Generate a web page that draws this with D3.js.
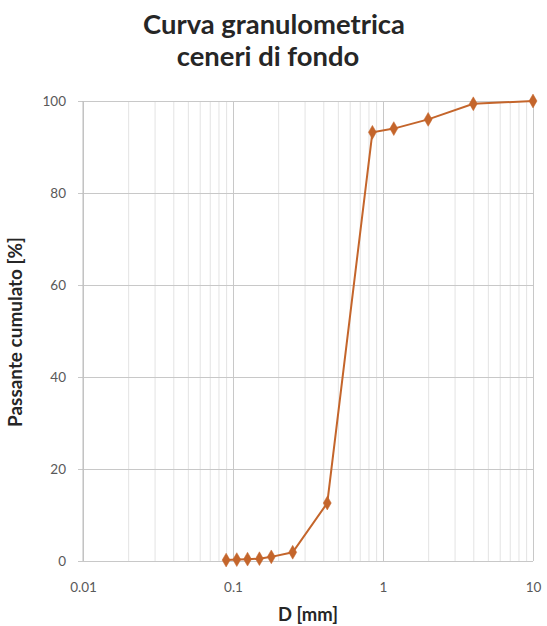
<!DOCTYPE html>
<html>
<head>
<meta charset="utf-8">
<script src="https://cdn.jsdelivr.net/npm/d3@7"></script>
<style>
  html, body { margin: 0; padding: 0; background: #fff; }
  svg { display: block; }
</style>
</head>
<body>
<svg id="chart" width="547" height="626"></svg>
<script>
// ---- data ----
const titleLines = ["Curva granulometrica", "ceneri di fondo"];
const diameters = [0.09, 0.106, 0.125, 0.15, 0.18, 0.25, 0.425, 0.85, 1.18, 2, 4, 10];
const passing   = [0.2, 0.3, 0.4, 0.5, 0.9, 1.9, 12.6, 93.2, 94.0, 96.0, 99.4, 100];
const xTicks = [0.01, 0.1, 1, 10];
const xTickLabels = ["0.01", "0.1", "1", "10"];
const yTicks = [0, 20, 40, 60, 80, 100];
const xTitle = "D [mm]";
const yTitle = "Passante cumulato [%]";

// ---- layout ----
const W = 547, H = 626;
const m = { left: 83, right: 14, top: 101, bottom: 65 };
const pw = W - m.left - m.right, ph = H - m.top - m.bottom;
const font = "Lato, 'Open Sans', sans-serif";
const lineColor = "#c4652b";

const svg = d3.select("#chart");
svg.append("rect").attr("width", W).attr("height", H).attr("fill", "#fff");

const x = d3.scaleLog().domain([0.01, 10]).range([m.left, m.left + pw]);
const y = d3.scaleLinear().domain([0, 100]).range([m.top + ph, m.top]);

function fit(sel, target) {
  const w = sel.node().getComputedTextLength();
  const fs = parseFloat(sel.attr("font-size"));
  sel.attr("font-size", (fs * target / w).toFixed(2));
}

// minor vertical gridlines (2..9 in each decade)
const minor = [];
[0.01, 0.1, 1].forEach(d => { for (let k = 2; k <= 9; k++) minor.push(d * k); });
svg.append("g")
  .attr("transform", `translate(0,${m.top + ph})`)
  .call(d3.axisBottom(x).tickValues(minor).tickSize(-ph).tickFormat(""))
  .call(g => g.select(".domain").remove())
  .call(g => g.selectAll("line").attr("stroke", "#e3e3e3").attr("stroke-width", 1));

// major vertical gridlines
svg.append("g")
  .attr("transform", `translate(0,${m.top + ph})`)
  .call(d3.axisBottom(x).tickValues(xTicks).tickSize(-ph).tickFormat(""))
  .call(g => g.select(".domain").remove())
  .call(g => g.selectAll("line").attr("stroke", "#c8c8c8").attr("stroke-width", 1));

// horizontal gridlines + y ticks
const yAxis = svg.append("g")
  .attr("transform", `translate(${m.left},0)`)
  .call(d3.axisLeft(y).tickValues(yTicks).tickSizeInner(-pw).tickSizeOuter(0).tickPadding(17).tickFormat(d3.format("d")))
  .call(g => g.select(".domain").remove());
yAxis.selectAll(".tick line").attr("stroke", "#c8c8c8").attr("x1", -5);
yAxis.selectAll("text").attr("fill", "#595959").attr("font-family", font).attr("font-size", 13.5)
  .attr("x", -17);

// vertical axis line
svg.append("line")
  .attr("x1", m.left).attr("x2", m.left)
  .attr("y1", m.top).attr("y2", m.top + ph)
  .attr("stroke", "#bdbdbd");

// x tick labels
const xAxis = svg.append("g")
  .attr("transform", `translate(0,${m.top + ph})`)
  .call(d3.axisBottom(x).tickValues(xTicks).tickSize(0).tickPadding(21)
    .tickFormat((d, i) => xTickLabels[i]))
  .call(g => g.select(".domain").remove());
xAxis.selectAll("text").attr("fill", "#595959").attr("font-family", font).attr("font-size", 13.5);

// line + markers
const pts = diameters.map((d, i) => ({ d, p: passing[i] }));
svg.append("path")
  .datum(pts)
  .attr("fill", "none")
  .attr("stroke", lineColor)
  .attr("stroke-width", 2)
  .attr("d", d3.line().x(v => x(v.d)).y(v => y(v.p)));

svg.append("g").selectAll("path")
  .data(pts)
  .join("path")
  .attr("d", d3.symbol().type(d3.symbolDiamond).size(55))
  .attr("transform", v => `translate(${x(v.d)},${y(v.p)})`)
  .attr("fill", lineColor)
  .attr("stroke", lineColor)
  .attr("stroke-width", 0.5);

// title
const t1 = svg.append("text").text(titleLines[0])
  .attr("x", 274).attr("y", 34).attr("text-anchor", "middle")
  .attr("font-family", font).attr("font-weight", "bold").attr("font-size", 22).attr("fill", "#262626");
fit(t1, 262);
const t2 = svg.append("text").text(titleLines[1])
  .attr("x", 268).attr("y", 66).attr("text-anchor", "middle")
  .attr("font-family", font).attr("font-weight", "bold").attr("font-size", t1.attr("font-size")).attr("fill", "#262626");

// axis titles
const xt = svg.append("text").text(xTitle)
  .attr("x", m.left + pw / 2).attr("y", 621).attr("text-anchor", "middle")
  .attr("font-family", font).attr("font-weight", "bold").attr("font-size", 12).attr("fill", "#262626");
fit(xt, 60);

const yt = svg.append("text").text(yTitle)
  .attr("transform", `translate(22,332) rotate(-90)`).attr("text-anchor", "middle")
  .attr("font-family", font).attr("font-weight", "bold").attr("font-size", 12).attr("fill", "#262626");
fit(yt, 190);
</script>
</body>
</html>
